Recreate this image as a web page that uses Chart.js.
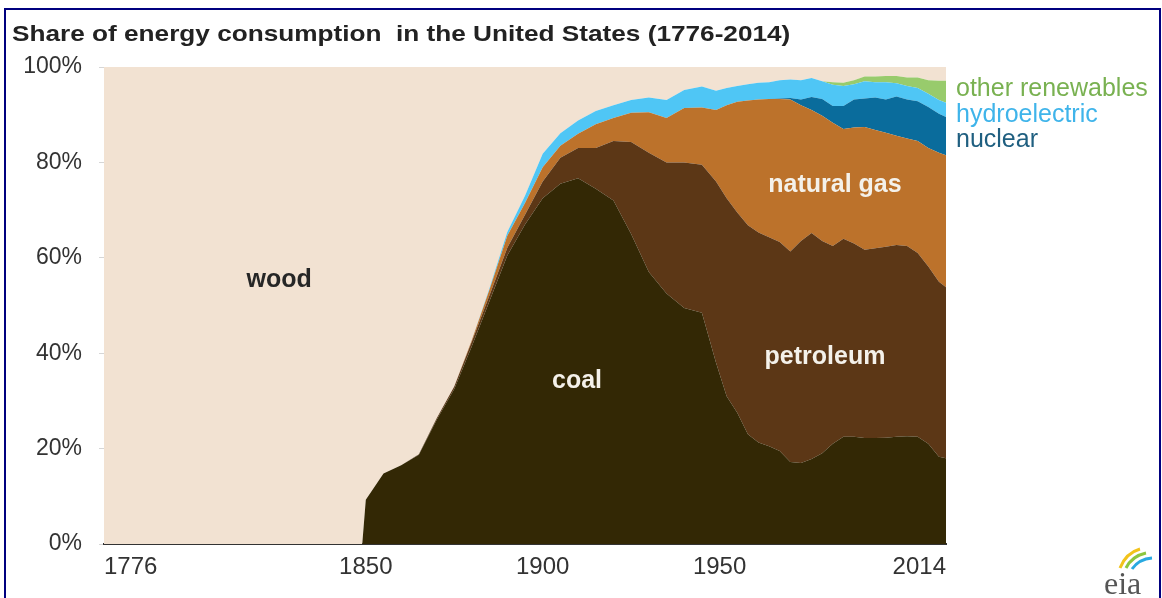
<!DOCTYPE html>
<html>
<head>
<meta charset="utf-8">
<script src="https://cdn.jsdelivr.net/npm/chart.js@4.4.0/dist/chart.umd.min.js"></script>
<style>
html, body { margin: 0; padding: 0; background: #fff; }
#wrap { position: relative; width: 1162px; height: 598px; overflow: hidden; font-family: "Liberation Sans", Arial, sans-serif; }
#frame { position: absolute; left: 4px; top: 8px; width: 1153px; height: 600px; border: 2px solid #00007f; border-bottom: none; pointer-events: none; }
#title { position: absolute; left: 12px; top: 21px; font-size: 22px; font-weight: bold; color: #222; white-space: pre; transform: scaleX(1.19); transform-origin: left top; }
#chart { position: absolute; left: 0; top: 0; }
#logo { position: absolute; left: 1100px; top: 546px; }
</style>
</head>
<body>
<div id="wrap">
  <canvas id="chart" width="1162" height="598"></canvas>
  <div id="title">Share of energy consumption  in the United States (1776-2014)</div>
  <svg id="logo" width="58" height="52" viewBox="0 0 58 52">
    <path d="M20 22 Q26 7 40 3" stroke="#f2c31b" stroke-width="3" fill="none"/>
    <path d="M26 22 Q32 10 46 7" stroke="#8cc63f" stroke-width="3" fill="none"/>
    <path d="M32 23 Q39 13 52 12" stroke="#29a9e1" stroke-width="3" fill="none"/>
    <text x="4" y="48" font-family="Liberation Serif, serif" font-size="32" fill="#555">eia</text>
  </svg>
  <div id="frame"></div>
</div>
<script>
// 年份（1776 年之后数据稀疏，1949 年后取样更密）
const years = [1776, 1849, 1850, 1855, 1860, 1865, 1870, 1875, 1880, 1885, 1890, 1895,
  1900, 1905, 1910, 1915, 1920, 1925, 1930, 1935, 1940, 1945, 1949, 1952, 1955, 1958,
  1961, 1964, 1967, 1970, 1973, 1976, 1979, 1982, 1985, 1988, 1991, 1994, 1997, 2000,
  2003, 2006, 2009, 2012, 2014];

// 各能源占比 (%)
const coal = [0, 0, 9.3, 14.8, 16.5, 18.7, 26, 32.5, 41.5, 51, 60.5, 67,
  72.5, 75.5, 76.7, 74.5, 72, 65, 57, 52.5, 49.5, 48.5, 38, 31, 27.5, 23,
  21.3, 20.5, 19.5, 17.2, 17, 17.8, 19, 21, 22.5, 22.5, 22.2, 22.2, 22.3, 22.5,
  22.6, 22.5, 21, 18.3, 18];
const petroleum = [0, 0, 0, 0, 0, 0.1, 0.3, 0.5, 1, 1.2, 1.6, 2,
  3.5, 5.5, 6.3, 8.5, 12.5, 19.3, 25, 27.5, 30.5, 31, 38, 41.5, 42, 43.8,
  44, 43.8, 43.8, 44.1, 46.5, 47.4, 44.5, 41.5, 41.5, 40.5, 39.5, 39.8, 40, 40.2,
  39.9, 38.5, 37.2, 36.7, 35.8];
const naturalGas = [0, 0, 0, 0, 0, 0, 0, 0, 0.3, 1.2, 2.5, 2.5,
  3, 2.5, 3, 5, 4.8, 6.1, 8.5, 9.3, 11.4, 12, 15, 19.5, 23.2, 26.2,
  27.9, 29, 30, 31.9, 28.5, 25.8, 26.3, 25.8, 23, 24.3, 25.7, 24.8, 23.9, 22.9,
  22.5, 23.5, 24.8, 27, 27.7];
const nuclear = [0, 0, 0, 0, 0, 0, 0, 0, 0, 0, 0, 0,
  0, 0, 0, 0, 0, 0, 0, 0, 0, 0, 0, 0, 0, 0,
  0, 0, 0.1, 0.3, 1.2, 2.7, 3.5, 3.5, 4.8, 5.9, 6.0, 6.8, 7.0, 8.2,
  8.2, 8.3, 8.6, 8.2, 8.0];
const hydro = [0, 0, 0, 0, 0, 0, 0, 0, 0, 0.3, 0.8, 1.5,
  2.8, 2.6, 2.8, 2.8, 2.7, 2.7, 3.1, 3.8, 3.8, 4.4, 4.0, 3.6, 3.3, 3.4,
  3.5, 3.5, 3.8, 3.9, 4.0, 4.0, 3.7, 4.5, 4.2, 3.2, 3.6, 3.2, 3.6, 2.8,
  2.8, 2.8, 2.8, 2.9, 3.0];
const otherRenewables = [0, 0, 0, 0, 0, 0, 0, 0, 0, 0, 0, 0,
  0, 0, 0, 0, 0, 0, 0, 0, 0, 0, 0, 0, 0, 0,
  0, 0, 0, 0, 0, 0, 0, 0.5, 0.7, 0.8, 1.0, 1.2, 1.3, 1.5,
  1.8, 2.2, 2.8, 4.0, 4.6];
const wood = [100, 100, 90.7, 85.2, 83.5, 81.2, 73.7, 67, 57.2, 46.3, 34.6, 27,
  18.2, 13.9, 11.2, 9.2, 8, 6.9, 6.4, 6.9, 4.8, 4.1, 5, 4.4, 4.0, 3.6,
  3.3, 3.2, 2.8, 2.6, 2.8, 2.3, 3.0, 3.2, 3.3, 2.8, 2.0, 2.0, 1.9, 1.9,
  2.2, 2.2, 2.8, 2.9, 2.9];

// 坐标轴刻度
const xTicks = [1776, 1850, 1900, 1950, 2014];
const yTicks = [0, 20, 40, 60, 80, 100];

const FONT = '"Liberation Sans", Arial, sans-serif';

function series(values) {
  return values.map((v, i) => ({ x: years[i], y: v }));
}

function area(label, values, color, fill) {
  return {
    label: label,
    data: series(values),
    backgroundColor: color,
    borderWidth: 0,
    pointRadius: 0,
    tension: 0,
    fill: fill
  };
}

// 图内文字标注
const areaLabels = {
  id: 'areaLabels',
  afterDatasetsDraw(chart) {
    const { ctx, chartArea, scales: { x, y } } = chart;
    ctx.save();
    ctx.textAlign = 'center';
    ctx.textBaseline = 'middle';
    ctx.font = 'bold 25px ' + FONT;
    [
      { text: 'wood', year: 1825.5, pct: 55.3, color: '#262626' },
      { text: 'coal', year: 1909.7, pct: 34.2, color: '#f4f1ea' },
      { text: 'petroleum', year: 1979.8, pct: 39.2, color: '#f4f1ea' },
      { text: 'natural gas', year: 1982.6, pct: 75.3, color: '#f4f1ea' }
    ].forEach(l => {
      ctx.fillStyle = l.color;
      ctx.fillText(l.text, x.getPixelForValue(l.year), y.getPixelForValue(l.pct));
    });

    ctx.textAlign = 'left';
    ctx.font = '25px ' + FONT;
    [
      { text: 'other renewables', pct: 95.4, color: '#79b151' },
      { text: 'hydroelectric', pct: 90.0, color: '#3fb4ea' },
      { text: 'nuclear', pct: 84.6, color: '#1f5f80' }
    ].forEach(l => {
      ctx.fillStyle = l.color;
      ctx.fillText(l.text, chartArea.right + 10, y.getPixelForValue(l.pct));
    });
    ctx.restore();
  }
};

new Chart(document.getElementById('chart'), {
  type: 'line',
  data: {
    datasets: [
      area('coal', coal, '#332805', 'origin'),
      area('petroleum', petroleum, '#5c3716', '-1'),
      area('natural gas', naturalGas, '#bc722b', '-1'),
      area('nuclear', nuclear, '#0a6c9c', '-1'),
      area('hydroelectric', hydro, '#4fc6f5', '-1'),
      area('other renewables', otherRenewables, '#98cb6c', '-1'),
      area('wood', wood, '#f2e2d2', '-1')
    ]
  },
  options: {
    responsive: false,
    animation: false,
    events: [],
    layout: { padding: { left: 0, top: 67, right: 216, bottom: 0 } },
    plugins: {
      legend: { display: false },
      tooltip: { enabled: false }
    },
    scales: {
      x: {
        type: 'linear',
        min: 1776,
        max: 2014,
        afterBuildTicks: s => { s.ticks = xTicks.map(v => ({ value: v })); },
        afterFit: s => { s.height = 54; },
        grid: { display: false, drawTicks: false },
        border: { display: true, color: '#333', width: 2 },
        ticks: {
          align: 'inner',
          autoSkip: false,
          maxRotation: 0,
          padding: 9,
          color: '#333',
          font: { family: FONT, size: 24 },
          callback: v => String(v)
        }
      },
      y: {
        stacked: true,
        min: 0,
        max: 100,
        afterBuildTicks: s => { s.ticks = yTicks.map(v => ({ value: v })); },
        afterFit: s => { s.width = 104; },
        grid: { drawOnChartArea: false, drawTicks: true, tickLength: 5, color: '#d6d6d6' },
        border: { display: false },
        ticks: {
          padding: 17,
          color: '#333',
          font: { family: FONT, size: 23 },
          callback: v => v + '%'
        }
      }
    }
  },
  plugins: [areaLabels]
});
</script>
</body>
</html>
